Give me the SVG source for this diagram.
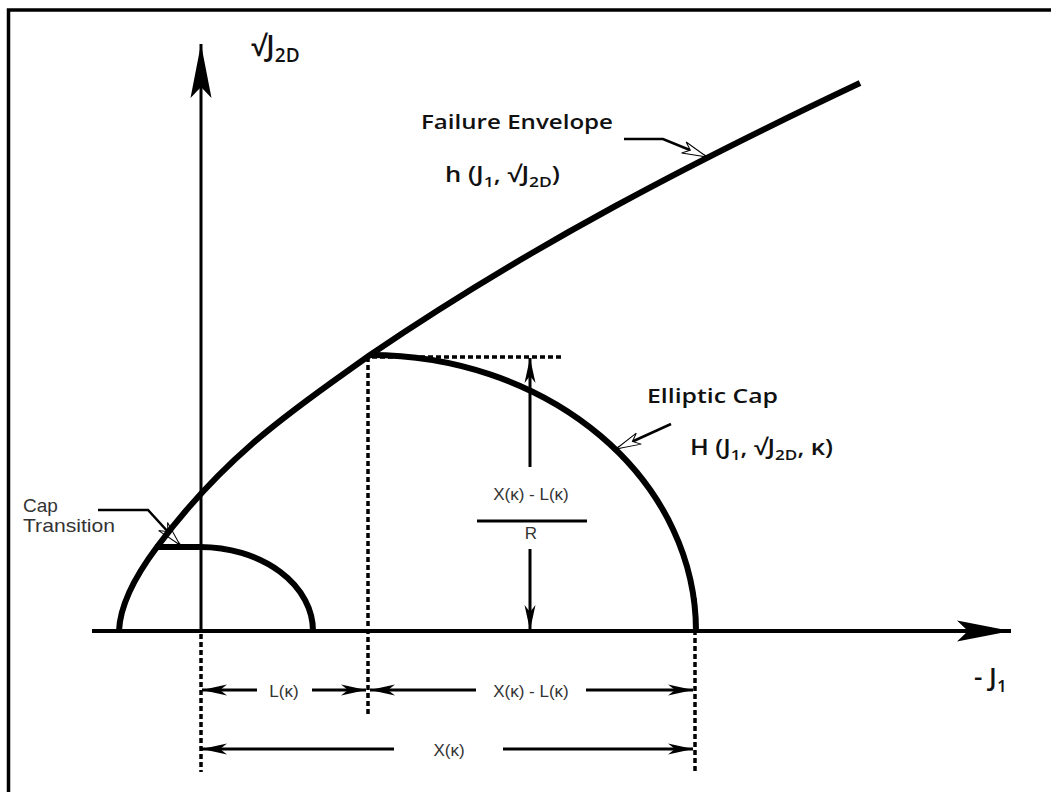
<svg xmlns="http://www.w3.org/2000/svg" width="1051" height="792" viewBox="0 0 1051 792">
<style>
.lbl{font-family:"Open Sans","Liberation Sans",Arial,sans-serif;font-weight:600;font-size:20px;fill:#111}
.big{font-size:28px}
.sub{font-size:15px}
.bigsub{font-size:19px}
.frm{font-size:22px}
.thin{font-family:"Liberation Sans",Arial,sans-serif;font-weight:normal;font-size:19px;fill:#333}
.dim{font-family:"Liberation Sans",Arial,sans-serif;font-size:17px;fill:#333}
.curve{fill:none;stroke:#000;stroke-width:6;stroke-linejoin:round}
.axis{fill:none;stroke:#000}
.dot{fill:none;stroke:#000;stroke-width:3.5;stroke-dasharray:5 3}
.dimline{fill:none;stroke:#000;stroke-width:3}
.leader{fill:none;stroke:#000;stroke-width:2.5}
</style>
<defs>
<marker id="axArrow" markerUnits="userSpaceOnUse" orient="auto" refX="0" refY="0" markerWidth="60" markerHeight="30" overflow="visible">
<path d="M0,0 L-54,-10.5 L-43,0 L-54,10.5 Z" fill="#000"/>
</marker>
<marker id="dimArrow" markerUnits="userSpaceOnUse" orient="auto-start-reverse" refX="0" refY="0" markerWidth="30" markerHeight="14" overflow="visible">
<path d="M0,0 L-25,-5.5 L-18,0 L-25,5.5 Z" fill="#000"/>
</marker>
<marker id="openArrow" markerUnits="userSpaceOnUse" orient="auto" refX="0" refY="0" markerWidth="30" markerHeight="14" overflow="visible">
<path d="M0,0 L-25,-6 L-18,0 L-25,6 Z" fill="#fff" stroke="#000" stroke-width="1" stroke-linejoin="miter"/>
</marker>
</defs>
<rect width="1051" height="792" fill="#fff"/>
<path d="M8.5,800 L8.5,10 L1060,10" fill="none" stroke="#000" stroke-width="3.5"/>

<g id="connectors">
<path class="axis" d="M201,631 L201,44" stroke-width="3" marker-end="url(#axArrow)"/>
<path class="axis" d="M92,631 L1011,631" stroke-width="4" marker-end="url(#axArrow)"/>
<path class="dot" d="M368,357 L368,714"/>
<path class="dot" d="M372,357 L562,357"/>
<path class="dot" d="M201,634 L201,772"/>
<path class="dot" d="M695,598 L695,772"/>
<path class="dimline" d="M257,690 L202,690" marker-end="url(#dimArrow)"/>
<path class="dimline" d="M312,690 L366,690" marker-end="url(#dimArrow)"/>
<path class="dimline" d="M476,690 L370,690" marker-end="url(#dimArrow)"/>
<path class="dimline" d="M586,690 L693,690" marker-end="url(#dimArrow)"/>
<path class="dimline" d="M394,749 L202,749" marker-end="url(#dimArrow)"/>
<path class="dimline" d="M503,749 L693,749" marker-end="url(#dimArrow)"/>
<path class="dimline" d="M530,467 L530,358" marker-end="url(#dimArrow)"/>
<path class="dimline" d="M530,549 L530,630" marker-end="url(#dimArrow)"/>
<path class="dimline" d="M477,521 L587,521"/>
<path class="leader" d="M624,139 L663,139 L707,157" marker-end="url(#openArrow)"/>
<path class="leader" d="M671,424 L616,449" marker-end="url(#openArrow)"/>
<path class="leader" d="M98,510 L148,510 L180,545" marker-end="url(#openArrow)"/>
</g>

<g id="failure-envelope">
<path class="curve" d="M157,547 C228,451 299,406 370,355 C533,244 697,160 860,83"/>
</g>
<g id="elliptic-cap">
<path class="curve" d="M370,355 A326,276 0 0 1 696,631"/>
</g>
<g id="cap-transition-curve">
<path class="curve" stroke-width="5.5" d="M119,631 C120,605 136,575 157,547 L200,547 A113,84 0 0 1 313,631"/>
</g>

<g id="axis-labels">
<text class="lbl big" x="251" y="56">√J<tspan class="bigsub" dy="6">2D</tspan></text>
<text class="lbl" x="974" y="686" style="font-size:26px">- J<tspan class="sub" dy="6" style="font-size:17px">1</tspan></text>
</g>
<g id="label-failure">
<text class="lbl" x="421" y="129" textLength="192" lengthAdjust="spacingAndGlyphs">Failure Envelope</text>
<text class="lbl frm" x="445" y="182" textLength="115" lengthAdjust="spacingAndGlyphs">h (J<tspan class="sub" dy="5">1</tspan><tspan dy="-5">, √J</tspan><tspan class="sub" dy="5">2D</tspan><tspan dy="-5">)</tspan></text>
</g>
<g id="label-elliptic">
<text class="lbl" x="647" y="403" textLength="131" lengthAdjust="spacingAndGlyphs">Elliptic Cap</text>
<text class="lbl frm" x="690" y="455" textLength="143" lengthAdjust="spacingAndGlyphs">H (J<tspan class="sub" dy="5">1</tspan><tspan dy="-5">, √J</tspan><tspan class="sub" dy="5">2D</tspan><tspan dy="-5">, κ)</tspan></text>
</g>
<g id="label-cap-transition">
<text class="thin" x="23" y="512">Cap</text>
<text class="thin" x="23" y="532" textLength="92" lengthAdjust="spacingAndGlyphs">Transition</text>
</g>
<g id="dimension-labels">
<text class="dim" x="284" y="697" text-anchor="middle">L(κ)</text>
<text class="dim" x="531" y="697" text-anchor="middle">X(κ) - L(κ)</text>
<text class="dim" x="449" y="756" text-anchor="middle">X(κ)</text>
<text class="dim" x="531" y="500" text-anchor="middle">X(κ) - L(κ)</text>
<text class="dim" x="531" y="539" text-anchor="middle">R</text>
</g>
</svg>
